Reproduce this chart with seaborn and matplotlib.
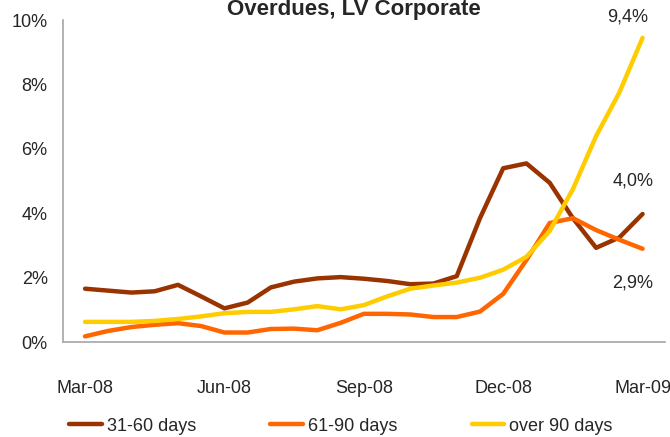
import numpy as np
import pandas as pd
import matplotlib
matplotlib.use("Agg")
import matplotlib.pyplot as plt
import seaborn as sns

# semi-monthly observations, Mar-08 .. Mar-09
periods = list(range(25))
tick_pos = [0, 6, 12, 18, 24]
tick_labels = ['Mar-08', 'Jun-08', 'Sep-08', 'Dec-08', 'Mar-09']

d31_60 = [1.66, 1.60, 1.54, 1.58, 1.78, 1.42, 1.05, 1.23, 1.70, 1.88, 1.98, 2.02, 1.97,
          1.90, 1.80, 1.82, 2.05, 3.85, 5.40, 5.55, 4.95, 3.85, 2.93, 3.25, 3.98]
d61_90 = [0.18, 0.35, 0.47, 0.54, 0.59, 0.50, 0.30, 0.30, 0.41, 0.42, 0.37, 0.60, 0.88,
          0.88, 0.86, 0.78, 0.78, 0.95, 1.50, 2.55, 3.70, 3.85, 3.48, 3.18, 2.90]
over90 = [0.63, 0.63, 0.63, 0.66, 0.72, 0.80, 0.90, 0.94, 0.94, 1.02, 1.12, 1.02, 1.15,
          1.42, 1.66, 1.76, 1.85, 2.00, 2.25, 2.65, 3.45, 4.75, 6.40, 7.75, 9.45]

series_names = ['31-60 days', '61-90 days', 'over 90 days']
colors = ['#993300', '#FF6600', '#FFCC00']

df = pd.DataFrame({'period': periods * 3,
                   'value': d31_60 + d61_90 + over90,
                   'series': np.repeat(series_names, len(periods))})

sns.set_style('white')
plt.rcParams['font.family'] = ['Liberation Sans', 'DejaVu Sans']

fig = plt.figure(figsize=(6.7, 4.37), dpi=100)
ax = fig.add_axes([0.094, 0.217, 0.898, 0.737])

sns.lineplot(data=df, x='period', y='value', hue='series', palette=colors,
             linewidth=3.2, ax=ax, legend=True, solid_capstyle='round')

ax.set_xlim(-0.95, 24.95)
ax.set_ylim(0, 10)
ax.set_xticks(tick_pos)
ax.set_xticklabels(tick_labels, fontsize=13)
ax.set_yticks([0, 2, 4, 6, 8, 10])
ax.set_yticklabels([f'{v}%' for v in [0, 2, 4, 6, 8, 10]], fontsize=13)
ax.tick_params(axis='x', pad=27, length=0)
ax.tick_params(axis='y', pad=11, length=0)
ax.set_xlabel('')
ax.set_ylabel('')
for s in ['top', 'right']:
    ax.spines[s].set_visible(False)
for s in ['left', 'bottom']:
    ax.spines[s].set_color('#A6A6A6')
    ax.spines[s].set_linewidth(1.2)

# title sits at the very top edge, as in the source
fig.text(0.528, 0.9657, 'Overdues, LV Corporate', fontsize=16, fontweight='bold',
         ha='center', va='baseline')

# end-of-series data labels
ax.annotate('9,4%', (24, over90[-1]), xytext=(-11, 15), textcoords='offset points',
            ha='center', va='center', fontsize=13)
ax.annotate('4,0%', (24, d31_60[-1]), xytext=(-7, 24), textcoords='offset points',
            ha='center', va='center', fontsize=13)
ax.annotate('2,9%', (24, d61_90[-1]), xytext=(-7, -25), textcoords='offset points',
            ha='center', va='center', fontsize=13)

leg = ax.legend(loc='upper center', bbox_to_anchor=(0.462, -0.184), ncol=3, frameon=False,
                fontsize=13, handlelength=1.8, handletextpad=0.3, columnspacing=4.1)
for line in leg.get_lines():
    line.set_linewidth(3.2)

fig.savefig('out.png', dpi=100)
